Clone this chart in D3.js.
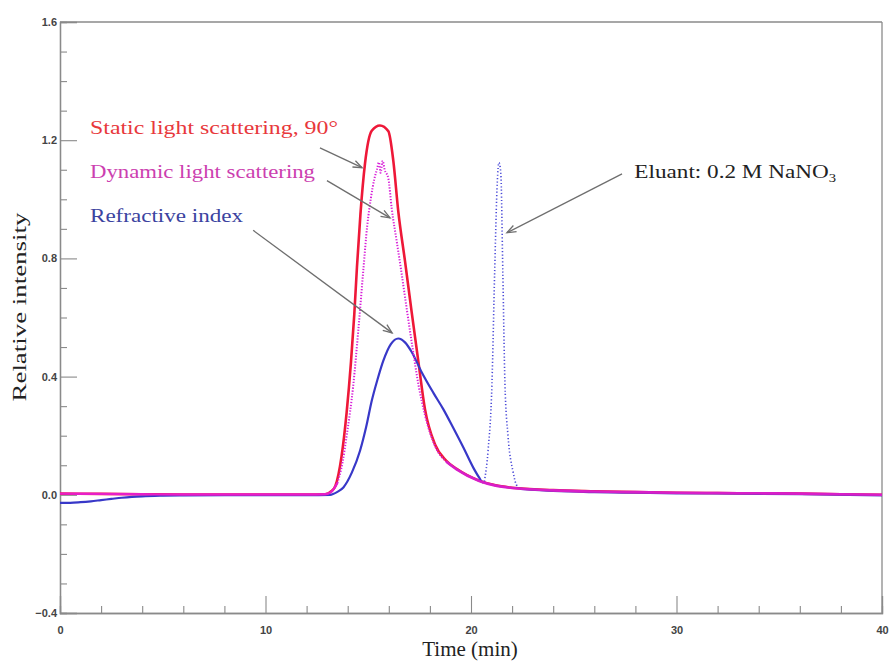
<!DOCTYPE html>
<html>
<head>
<meta charset="utf-8">
<script src="https://cdn.jsdelivr.net/npm/d3@7/dist/d3.min.js"></script>
<style>
  html, body { margin: 0; padding: 0; background: #fff; }
  svg { display: block; }
</style>
</head>
<body>
<svg id="chart" width="889" height="662"></svg>
<script>
// Elution profiles: [time (min), relative intensity]
const staticLS = [
  [0, 0.004], [2, 0.003], [4, 0.002], [6, 0.001], [8, 0.001], [10, 0.001], [12, 0.001],
  [12.9, 0.002], [13.2, 0.012], [13.4, 0.03], [13.7, 0.13], [13.95, 0.28], [14.16, 0.45],
  [14.32, 0.61], [14.45, 0.77], [14.62, 0.95], [14.84, 1.12], [15.17, 1.232], [15.57, 1.25],
  [15.98, 1.23], [16.22, 1.13], [16.46, 0.96], [16.79, 0.79], [17.11, 0.62], [17.44, 0.45],
  [17.76, 0.29], [18.25, 0.17], [18.8, 0.115], [19.3, 0.088], [20.4, 0.048], [21.2, 0.032],
  [22, 0.024], [24, 0.016], [26, 0.012], [28, 0.009], [30, 0.007], [32, 0.006], [34, 0.005],
  [36, 0.004], [38, 0.002], [40, 0.0]
];

const dynamicLS = [
  [0, 0.004], [2, 0.003], [4, 0.002], [6, 0.001], [8, 0.001], [10, 0.001], [12, 0.001],
  [12.9, 0.002], [13.2, 0.01], [13.5, 0.04], [13.75, 0.11], [13.95, 0.2], [14.27, 0.37],
  [14.52, 0.56], [14.76, 0.76], [14.95, 0.91], [15.12, 1.0], [15.3, 1.07], [15.42, 1.1],
  [15.52, 1.125], [15.6, 1.09], [15.7, 1.13], [15.8, 1.1], [15.98, 1.07], [16.14, 0.97],
  [16.38, 0.86], [16.6, 0.76], [16.85, 0.64], [17.15, 0.5], [17.45, 0.37], [17.76, 0.27],
  [18.25, 0.165], [18.8, 0.112], [19.3, 0.086], [20.4, 0.047], [21.2, 0.031], [22, 0.023],
  [24, 0.015], [26, 0.011], [28, 0.009], [30, 0.007], [32, 0.006], [34, 0.005], [36, 0.004],
  [38, 0.002], [40, 0.0]
];

const refractiveIndex = [
  [0, -0.027], [0.5, -0.027], [1, -0.025], [1.5, -0.022], [2, -0.018], [2.5, -0.014],
  [3, -0.01], [3.5, -0.007], [4, -0.005], [5, -0.003], [6, -0.002], [8, -0.001], [10, -0.001],
  [12, -0.001], [13.14, 0.0], [13.5, 0.01], [13.79, 0.025], [14.2, 0.075], [14.6, 0.149],
  [14.9, 0.23], [15.17, 0.318], [15.45, 0.39], [15.73, 0.453], [16.1, 0.51], [16.46, 0.529],
  [16.8, 0.515], [17.1, 0.485], [17.6, 0.415], [18.17, 0.345], [18.65, 0.29], [19.14, 0.226],
  [19.63, 0.16], [20.11, 0.092], [20.4, 0.058], [20.57, 0.042], [20.65, 0.045]
];

// Salt (eluant) peak of the refractive index trace
const eluantPeak = [
  [20.65, 0.045], [20.83, 0.149], [21.02, 0.376], [21.15, 0.75], [21.28, 1.06], [21.36, 1.124],
  [21.45, 1.09], [21.55, 0.75], [21.65, 0.38], [21.8, 0.2], [22.04, 0.08], [22.2, 0.035],
  [22.4, 0.02]
];

const refractiveTail = [
  [22.4, 0.02], [24, 0.013], [26, 0.009], [28, 0.007], [30, 0.005], [33, 0.004], [36, 0.002],
  [40, -0.002]
];

// Axis ticks
const xTicks = [0, 10, 20, 30, 40];
const xMinorTicks = [2, 4, 6, 8, 12, 14, 16, 18, 22, 24, 26, 28, 32, 34, 36, 38];
const yTicks = [-0.4, 0.0, 0.4, 0.8, 1.2, 1.6];
const yMinorTicks = [-0.3, -0.2, -0.1, 0.1, 0.2, 0.3, 0.5, 0.6, 0.7, 0.9, 1.0, 1.1, 1.3, 1.4, 1.5];

// Annotation labels and their pointer arrows, in data units
const labels = [
  { text: "Static light scattering, 90°", t: 1.46, v: 1.222, color: "#e8383c", len: 248 },
  { text: "Dynamic light scattering", t: 1.46, v: 1.072, color: "#cc3fb0", len: 225 },
  { text: "Refractive index", t: 1.46, v: 0.923, color: "#3b43a0", len: 153 }
];
const eluantLabel = { main: "Eluant: 0.2 M NaNO", sub: "3", t: 27.95, v: 1.073 };
const arrows = [
  { from: [12.65, 1.174], to: [14.7, 1.107] },
  { from: [12.99, 1.063], to: [16.06, 0.937] },
  { from: [9.4, 0.895], to: [16.16, 0.548] },
  { from: [27.35, 1.086], to: [21.75, 0.887] }
];

const svg = d3.select("#chart");
const x = d3.scaleLinear().domain([0, 40]).range([60, 882]);
const y = d3.scaleLinear().domain([-0.4, 1.6]).range([613, 22]);

// Frame
const frameColor = "#8a8a8a";
svg.append("line").attr("x1", x(0)).attr("x2", x(40)).attr("y1", y(1.6)).attr("y2", y(1.6))
  .attr("stroke", frameColor).attr("stroke-width", 1.3);
svg.append("line").attr("x1", x(40)).attr("x2", x(40)).attr("y1", y(1.6)).attr("y2", y(-0.4))
  .attr("stroke", frameColor).attr("stroke-width", 1.3);

function styleAxis(g) {
  g.select(".domain").attr("stroke", frameColor).attr("stroke-width", 1.3);
  g.selectAll(".tick line").attr("stroke", frameColor).attr("stroke-width", 1.1);
  g.selectAll(".tick text").attr("fill", "#444").attr("font-family", "Arial, 'Liberation Sans', sans-serif")
    .attr("font-size", 11).attr("font-weight", "bold");
}

// Bottom axis
svg.append("g").attr("transform", `translate(0,${y(-0.4)})`)
  .call(d3.axisBottom(x).tickValues(xMinorTicks).tickSize(-7).tickFormat(""))
  .call(styleAxis);
svg.append("g").attr("transform", `translate(0,${y(-0.4)})`)
  .call(d3.axisBottom(x).tickValues(xTicks).tickSize(-17).tickPadding(13).tickFormat(d3.format("d")))
  .call(styleAxis);

// Left axis
svg.append("g").attr("transform", `translate(${x(0)},0)`)
  .call(d3.axisLeft(y).tickValues(yMinorTicks).tickSize(-7).tickFormat(""))
  .call(styleAxis);
svg.append("g").attr("transform", `translate(${x(0)},0)`)
  .call(d3.axisLeft(y).tickValues(yTicks).tickSize(-17).tickPadding(3).tickFormat(d3.format(".1f")))
  .call(styleAxis);

// Axis titles
svg.append("text").attr("x", 470).attr("y", 656).attr("text-anchor", "middle")
  .attr("font-family", "'Times New Roman', 'Liberation Serif', serif").attr("font-size", 21)
  .attr("fill", "#222").text("Time (min)");
svg.append("text").attr("transform", "translate(26,307) rotate(-90)").attr("text-anchor", "middle")
  .attr("font-family", "'Times New Roman', 'Liberation Serif', serif").attr("font-size", 19)
  .attr("fill", "#222").attr("textLength", 189).attr("lengthAdjust", "spacingAndGlyphs")
  .text("Relative  intensity");

// Traces
const line = d3.line().x(d => x(d[0])).y(d => y(d[1])).curve(d3.curveMonotoneX);
const plot = svg.append("g");

plot.append("path").datum(staticLS).attr("d", line)
  .attr("fill", "none").attr("stroke", "#ee1838").attr("stroke-width", 2.6);

plot.append("path").datum(refractiveIndex).attr("d", line)
  .attr("fill", "none").attr("stroke", "#3838c8").attr("stroke-width", 2.2);
plot.append("path").datum(eluantPeak).attr("d", line)
  .attr("fill", "none").attr("stroke", "#4a4ad8").attr("stroke-width", 1.6)
  .attr("stroke-dasharray", "1.2,2.2");
plot.append("path").datum(refractiveTail).attr("d", line)
  .attr("fill", "none").attr("stroke", "#5a3ac0").attr("stroke-width", 2.2);

// Dynamic light scattering: dense baseline segments look solid, peak region dotted
const dlsLead = dynamicLS.filter(d => d[0] <= 13.5);
const dlsPeak = dynamicLS.filter(d => d[0] >= 13.5 && d[0] <= 18.8);
const dlsTail = dynamicLS.filter(d => d[0] >= 18.8);
plot.append("path").datum(dlsLead).attr("d", line)
  .attr("fill", "none").attr("stroke", "#e81ec8").attr("stroke-width", 2.4);
plot.append("path").datum(dlsPeak).attr("d", line)
  .attr("fill", "none").attr("stroke", "#d820d8").attr("stroke-width", 2)
  .attr("stroke-dasharray", "1.3,1.6");
plot.append("path").datum(dlsTail).attr("d", line)
  .attr("fill", "none").attr("stroke", "#d81ec8").attr("stroke-width", 2.6);

// Arrows
const defs = svg.append("defs");
defs.append("marker").attr("id", "head").attr("viewBox", "-10 -5 12 10")
  .attr("refX", 0).attr("refY", 0).attr("markerWidth", 12).attr("markerHeight", 10)
  .attr("markerUnits", "userSpaceOnUse").attr("orient", "auto")
  .append("path").attr("d", "M-9,-3.5 L0,0 L-9,3.5").attr("fill", "none")
  .attr("stroke", "#6e6e6e").attr("stroke-width", 1.3);

svg.append("g").selectAll("line").data(arrows).join("line")
  .attr("x1", d => x(d.from[0])).attr("y1", d => y(d.from[1]))
  .attr("x2", d => x(d.to[0])).attr("y2", d => y(d.to[1]))
  .attr("stroke", "#6e6e6e").attr("stroke-width", 1.3)
  .attr("marker-end", "url(#head)");

// Labels
svg.append("g").selectAll("text").data(labels).join("text")
  .attr("x", d => x(d.t)).attr("y", d => y(d.v))
  .attr("font-family", "'Times New Roman', 'Liberation Serif', serif").attr("font-size", 19)
  .attr("fill", d => d.color)
  .attr("textLength", d => d.len).attr("lengthAdjust", "spacingAndGlyphs")
  .text(d => d.text);

// Eluant note, widened horizontally like the other annotations
const eluant = svg.append("text")
  .attr("transform", `translate(${x(eluantLabel.t)},${y(eluantLabel.v)}) scale(1.22,1)`)
  .attr("font-family", "'Times New Roman', 'Liberation Serif', serif").attr("font-size", 19)
  .attr("fill", "#222");
eluant.append("tspan").text(eluantLabel.main);
eluant.append("tspan").attr("font-size", 12).attr("dy", 4).text(eluantLabel.sub);
</script>
</body>
</html>
